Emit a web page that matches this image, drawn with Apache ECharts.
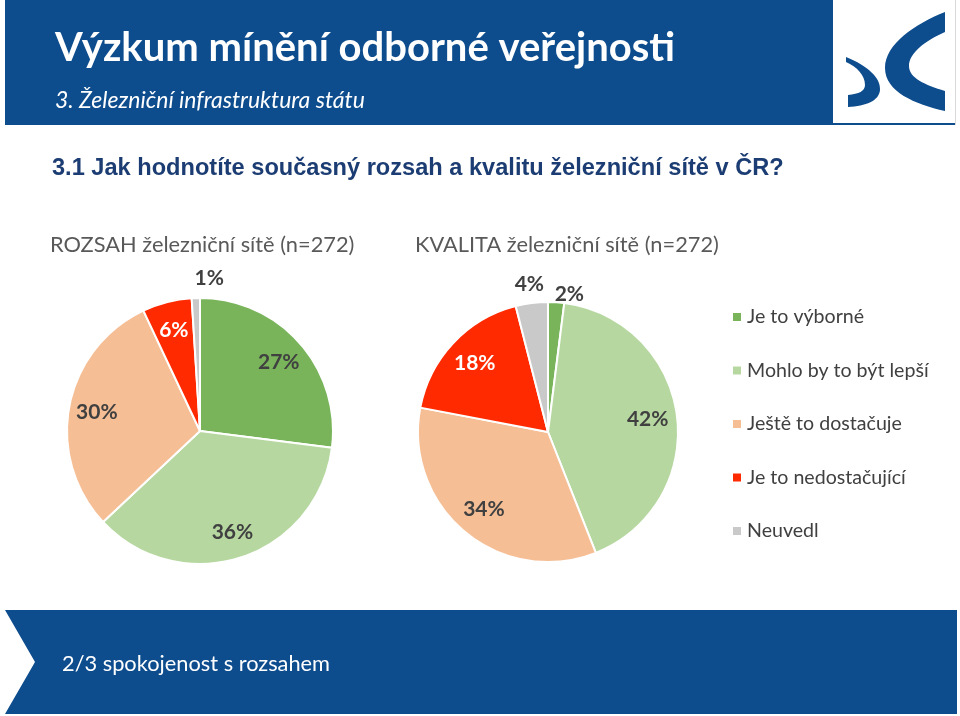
<!DOCTYPE html>
<html>
<head>
<meta charset="utf-8">
<script src="https://cdn.jsdelivr.net/npm/echarts@6/dist/echarts.min.js"></script>
<style>
html,body{margin:0;padding:0;background:#fff;}
#chart{width:960px;height:716px;}
</style>
</head>
<body>
<div id="chart"></div>
<script>
// ---- data ----
const categories = ['Je to výborné', 'Mohlo by to být lepší', 'Ještě to dostačuje', 'Je to nedostačující', 'Neuvedl'];
const rozsahValues = [27, 36, 30, 6, 1];
const kvalitaValues = [2, 42, 34, 18, 4];
const colors = ['#79b45b', '#b6d8a0', '#f5be95', '#ff2a00', '#c9c9c9'];
const labelColors = ['#404040', '#404040', '#404040', '#ffffff', '#404040'];

const headerTitle = 'Výzkum mínění odborné veřejnosti';
const headerSubtitle = '3. Železniční infrastruktura státu';
const question = '3.1 Jak hodnotíte současný rozsah a kvalitu železniční sítě v ČR?';
const titleRozsah = 'ROZSAH železniční sítě (n=272)';
const titleKvalita = 'KVALITA železniční sítě (n=272)';
const footerText = '2/3 spokojenost s rozsahem';
const SMALL = 5; // values below this get their label outside

const FONT = 'Lato, "Open Sans", sans-serif';
const BLUE = '#0d4c8d';

// logo shapes
echarts.graphic.registerShape('logoC', echarts.graphic.extendPath(
  'M945,12 C915,24 885,44 885,68 C885,92 915,104 945,111 L945,91 C925,85 909,78 909,66 C909,53 925,41 945,32 Z', {}));
echarts.graphic.registerShape('logoS', echarts.graphic.extendPath(
  'M846,57 C868,66 881,78 880,90 C879,101 866,106 848,107 L848,95 C859,94 865,91 865,85 C865,75 857,67 846,62 Z', {}));

function realData(vals) {
  return vals.map((v, i) => ({ name: categories[i], value: v, itemStyle: { color: colors[i] } }));
}
function ghostData(vals, small, offsets) {
  return vals.map((v, i) => {
    const isSmall = v < SMALL;
    const show = small ? isSmall : !isSmall;
    return {
      name: categories[i], value: v,
      label: { show: show, color: labelColors[i], offset: (offsets && offsets[i]) || [0, 0] }
    };
  });
}
function ghost(center, radius, vals, small, offsets) {
  return {
    type: 'pie', center: center, radius: [0, radius], silent: true,
    legendHoverLink: false, animation: false,
    itemStyle: { color: 'rgba(0,0,0,0)', borderWidth: 0 },
    emphasis: { disabled: true },
    label: { position: 'inside', formatter: '{c}%', fontFamily: FONT, fontWeight: 'bold', fontSize: 21 },
    labelLine: { show: false },
    data: ghostData(vals, small, offsets)
  };
}

const chart = echarts.init(document.getElementById('chart'));
const option = {
  backgroundColor: '#ffffff',
  animation: false,
  legend: {
    orient: 'vertical', left: 731, top: 306, padding: 0,
    icon: 'rect', itemWidth: 10, itemHeight: 10, itemGap: 31.5,
    selectedMode: false,
    textStyle: { fontFamily: FONT, fontSize: 19.6, color: '#404040', lineHeight: 22 },
    data: categories.map((c, i) => ({ name: c, itemStyle: { color: colors[i] } }))
  },
  graphic: [
    { type: 'rect', shape: { x: 5, y: 0, width: 828, height: 125 }, style: { fill: BLUE } },
    { type: 'rect', shape: { x: 833, y: 123, width: 122, height: 2 }, style: { fill: BLUE } },
    { type: 'rect', shape: { x: 955, y: 0, width: 1, height: 125 }, style: { fill: '#d9d9d9' } },
    { type: 'logoC', shape: {}, style: { fill: BLUE } },
    { type: 'logoS', shape: {}, style: { fill: BLUE } },
    { type: 'text', left: 55, top: 28, style: { text: headerTitle, fill: '#ffffff', font: 'bold 40px ' + FONT } },
    { type: 'text', left: 55, top: 89, style: { text: headerSubtitle, fill: '#ffffff', font: 'italic 23px ' + FONT } },
    { type: 'text', left: 52, top: 156, style: { text: question, fill: '#1c3d73', font: 'bold 23.6px "Liberation Sans", Arial, sans-serif' } },
    { type: 'text', left: 50, top: 234, style: { text: titleRozsah, fill: '#595959', font: '21.8px ' + FONT } },
    { type: 'text', left: 415, top: 234, style: { text: titleKvalita, fill: '#595959', font: '21.8px ' + FONT } },
    { type: 'polygon', shape: { points: [[5, 610], [957, 610], [957, 714], [5, 714], [35, 662]] }, style: { fill: BLUE } },
    { type: 'text', left: 62, top: 653, style: { text: footerText, fill: '#ffffff', font: '21.8px ' + FONT } }
  ],
  series: [
    {
      type: 'pie', name: 'ROZSAH', center: [200, 431], radius: [0, 133],
      startAngle: 90, clockwise: true, animation: false,
      itemStyle: { borderColor: '#ffffff', borderWidth: 2 },
      label: { show: false }, labelLine: { show: false },
      data: realData(rozsahValues)
    },
    {
      type: 'pie', name: 'KVALITA', center: [548, 432], radius: [0, 130],
      startAngle: 90, clockwise: true, animation: false,
      itemStyle: { borderColor: '#ffffff', borderWidth: 2 },
      label: { show: false }, labelLine: { show: false },
      data: realData(kvalitaValues)
    },
    ghost([200, 432], 204, rozsahValues, false),
    ghost([200, 431], 300, rozsahValues, true, [null, null, null, null, [14, 0]]),
    ghost([548, 432], 195, kvalitaValues, false),
    ghost([548, 432], 292, kvalitaValues, true, [[12, 11], null, null, null, null])
  ]
};
chart.setOption(option);
</script>
</body>
</html>
